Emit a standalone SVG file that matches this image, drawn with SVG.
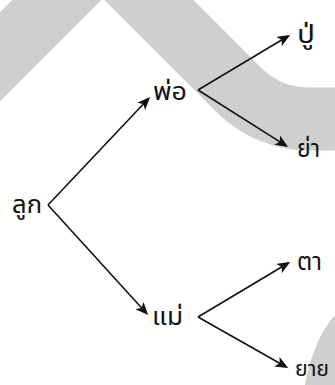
<svg xmlns="http://www.w3.org/2000/svg" width="335" height="385" viewBox="0 0 335 385">
  <style>
    .lbl { font-family: "Noto Sans Thai", "Tahoma", "DejaVu Sans", "Noto Sans", sans-serif; font-size: 25px; fill: #111; }
    .edge { stroke: #111; stroke-width: 1.6; fill: none; marker-end: url(#arrow); }
  </style>
  <defs>
    <marker id="arrow" markerUnits="userSpaceOnUse" viewBox="0 0 12 10" markerWidth="13" markerHeight="11" refX="10" refY="5" orient="auto">
      <path d="M0,0 L12,5 L0,10 L3,5 Z" fill="#111"/>
    </marker>
  </defs>
  <g id="background">
    <path d="M-60,116.5 L103,-46 L238.7,89.7 A100,100 0 0 0 309.4,119 L400,119" fill="none" stroke="#cfcfcf" stroke-width="63" stroke-linejoin="miter"/>
    <path d="M305,385 Q313,340 335,315 L335,385 Z" fill="#cfcfcf"/>
  </g>
  <g id="connectors">
    <line class="edge" x1="48" y1="205" x2="148.6" y2="98.5"/>
    <line class="edge" x1="48" y1="205" x2="146.7" y2="313.5"/>
    <line class="edge" x1="198" y1="90" x2="288.3" y2="36"/>
    <line class="edge" x1="198" y1="90" x2="286.3" y2="145.9"/>
    <line class="edge" x1="198" y1="317" x2="288.3" y2="263"/>
    <line class="edge" x1="198" y1="317" x2="286.3" y2="367"/>
  </g>
  <g id="n-luk"><text class="lbl" x="12" y="213" textLength="30" lengthAdjust="spacingAndGlyphs">ลูก</text></g>
  <g id="n-pho"><text class="lbl" x="153" y="100" textLength="34" lengthAdjust="spacingAndGlyphs">พ่อ</text></g>
  <g id="n-mae"><text class="lbl" x="152" y="325" textLength="31" lengthAdjust="spacingAndGlyphs">แม่</text></g>
  <g id="n-pu"><text class="lbl" x="297" y="43" textLength="18" lengthAdjust="spacingAndGlyphs">ปู่</text></g>
  <g id="n-ya"><text class="lbl" x="297" y="157" textLength="23" lengthAdjust="spacingAndGlyphs">ย่า</text></g>
  <g id="n-ta"><text class="lbl" x="297" y="270" textLength="25" lengthAdjust="spacingAndGlyphs">ตา</text></g>
  <g id="n-yai"><text class="lbl" x="295" y="376" style="font-size:22px" textLength="34" lengthAdjust="spacingAndGlyphs">ยาย</text></g>
</svg>
